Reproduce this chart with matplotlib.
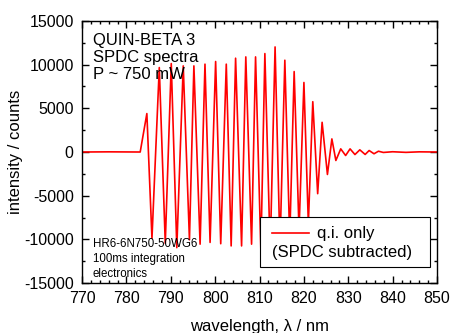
import matplotlib
matplotlib.use("Agg")
import matplotlib.pyplot as plt
from matplotlib.ticker import MultipleLocator
from matplotlib.patches import Rectangle
from matplotlib.lines import Line2D

plt.rcParams['font.family'] = ['Liberation Sans', 'DejaVu Sans']
plt.rcParams['axes.unicode_minus'] = False

# extrema of the q.i. spectrum (nm, counts)
wavelength = [770.0, 776.0, 783.1, 784.6, 785.75, 787.4, 788.75, 790.1, 791.35,
              792.8, 794.2, 795.2, 796.6, 797.7, 798.85, 800.1, 801.25, 802.5,
              803.6, 804.6, 805.95, 806.9, 808.2, 809.1, 810.3, 811.2, 812.4,
              813.5, 814.6, 815.7, 816.8, 817.8, 818.9, 820.0, 821.0, 822.0,
              823.1, 824.1, 825.3, 826.3, 827.2, 828.3, 829.4, 830.4, 831.5,
              832.6, 833.8, 834.7, 835.8, 836.8, 837.9, 840.0, 843.0, 846.0, 850.0]
intensity = [0, 20, 0, 4400, -9900, 9670, -10450, 10130, -10950,
             9860, -10050, 9860, -10550, 10060, -10350, 10360, -10500, 10060,
             -10750, 10740, -10750, 10890, -10550, 10890, -11300, 11270, -11500,
             12030, -11000, 10510, -10000, 9210, -9000, 7960, -8200, 5760,
             -4770, 3400, -2570, 1500, -970, 360, -400, 360, -290,
             250, -280, 170, -200, 90, -50, 30, -40, 20, 0]

fig = plt.figure(figsize=(4.51, 3.33), dpi=100)
ax = fig.add_axes([0.182, 0.150, 0.787, 0.787])

ax.plot(wavelength, intensity, color='red', lw=1.2, label='q.i. only')

ax.set_xlim(770, 850)
ax.set_ylim(-15000, 15000)
ax.xaxis.set_major_locator(MultipleLocator(10))
ax.xaxis.set_minor_locator(MultipleLocator(2))
ax.yaxis.set_major_locator(MultipleLocator(5000))
ax.yaxis.set_minor_locator(MultipleLocator(2500))
ax.tick_params(which='both', direction='in', top=True, right=True, width=1.0,
               labelsize=11.5)
ax.tick_params(axis='x', pad=6)
ax.tick_params(axis='y', pad=6)
ax.tick_params(which='major', length=5)
ax.tick_params(which='minor', length=2.5)
for s in ax.spines.values():
    s.set_linewidth(1.0)

ax.set_xlabel('wavelength, \u03bb / nm', fontsize=12, labelpad=9)
ax.set_ylabel('intensity / counts', fontsize=12)
ax.yaxis.set_label_coords(-0.166, 0.5)

ax.text(0.03, 0.955, 'QUIN-BETA 3\nSPDC spectra\nP ~ 750 mW', transform=ax.transAxes,
        fontsize=12, va='top', ha='left', linespacing=1.18)
ax.text(0.03, 0.012, 'HR6-6N750-50WG6\n100ms integration\nelectronics',
        transform=ax.transAxes, fontsize=8.3, va='bottom', ha='left', linespacing=1.35)

# legend box drawn by hand: second line sits under the handle
ax.add_patch(Rectangle((0.501, 0.061), 0.479, 0.19, transform=ax.transAxes,
                       facecolor='white', edgecolor='black', lw=0.8, zorder=5))
ax.add_line(Line2D([0.536, 0.640], [0.19, 0.19], transform=ax.transAxes,
                   color='red', lw=1.2, zorder=6))
ax.text(0.662, 0.19, 'q.i. only', transform=ax.transAxes, fontsize=12,
        va='center', ha='left', zorder=6)
ax.text(0.536, 0.116, '(SPDC subtracted)', transform=ax.transAxes, fontsize=12,
        va='center', ha='left', zorder=6)

fig.savefig('out.png', dpi=100)
